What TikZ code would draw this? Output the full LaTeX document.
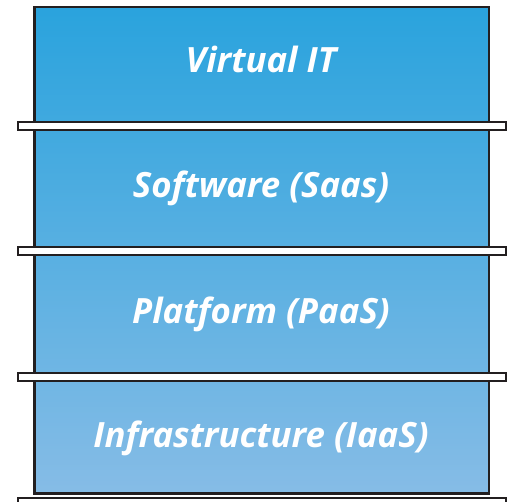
\documentclass[tikz,border=0pt]{standalone}
\usepackage{fontspec}
\setmainfont{Open Sans}
\begin{document}
\begin{tikzpicture}[x=1pt,y=-1pt]
\definecolor{topc}{RGB}{42,163,221}
\definecolor{botc}{RGB}{134,188,230}
\definecolor{edge}{RGB}{35,31,32}
\tikzset{
  shelf/.style={draw=edge,line width=2pt,fill=white},
  label/.style={text=white,font=\fontsize{34.8}{38}\selectfont\bfseries\itshape,anchor=base},
}
\useasboundingbox (0,0) rectangle (512,502);
\shade[top color=topc,bottom color=botc] (34.25,7.25) rectangle (488.75,493.75);
\draw[edge,line width=2.5pt] (34.25,493.75) -- (34.25,7.25) -- (488.75,7.25) -- (488.75,493.75) -- cycle;
\draw[shelf] (17.5,122) rectangle (505.5,130) coordinate (s1);
\draw[shelf] (17.5,247) rectangle (505.5,255.5) coordinate (s2);
\draw[shelf] (17.5,373) rectangle (505.5,381) coordinate (s3);
\draw[shelf] (17.5,498.3) rectangle (505.5,510) coordinate (s4);
\node[label] (l1) at (261,73) {Virtual IT};
\node[label] (l2) at (261,198) {Software (Saas)};
\node[label] (l3) at (261,324) {Platform (PaaS)};
\node[label] (l4) at (261,448) {Infrastructure (IaaS)};
\end{tikzpicture}
\end{document}
